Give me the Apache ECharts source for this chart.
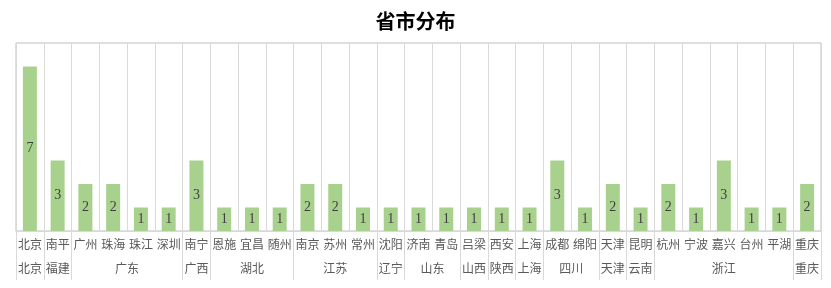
<!DOCTYPE html>
<html>
<head>
<meta charset="utf-8">
<style>
  html, body { margin: 0; padding: 0; background: #fff; }
  #chart { width: 831px; height: 288px; }
</style>
<script src="https://cdn.jsdelivr.net/npm/echarts@6/dist/echarts.min.js"></script>
</head>
<body>
<div id="chart"></div>
<script>
const cities = ['北京', '南平', '广州', '珠海', '珠江', '深圳', '南宁', '恩施', '宜昌', '随州',
  '南京', '苏州', '常州', '沈阳', '济南', '青岛', '吕梁', '西安', '上海', '成都',
  '绵阳', '天津', '昆明', '杭州', '宁波', '嘉兴', '台州', '平湖', '重庆'];
const provinces = ['北京', '福建', '广东', '广东', '广东', '广东', '广西', '湖北', '湖北', '湖北',
  '江苏', '江苏', '江苏', '辽宁', '山东', '山东', '山西', '陕西', '上海', '四川',
  '四川', '天津', '云南', '浙江', '浙江', '浙江', '浙江', '浙江', '重庆'];
const counts = [7, 3, 2, 2, 1, 1, 3, 1, 1, 1, 2, 2, 1, 1, 1, 1, 1, 1, 1, 3, 1, 2, 1, 2, 1, 3, 1, 1, 2];

// 省份标签放在半格刻度的轴上，每组的中点正好落在某个刻度上
const halfSlots = new Array(cities.length * 2 + 1).fill('');
let start = 0;
for (let i = 1; i <= provinces.length; i++) {
  if (i === provinces.length || provinces[i] !== provinces[start]) {
    halfSlots[start + i] = provinces[start];
    start = i;
  }
}
const isGroupStart = (index) => index === 0 || provinces[index] !== provinces[index - 1];

const lineGray = '#d9d9d9';
const textGray = '#595959';
const cjk = 'Noto Sans CJK SC';

const chart = echarts.init(document.getElementById('chart'));
chart.setOption({
  animation: false,
  title: {
    text: '省市分布',
    left: 'center',
    top: 6,
    textStyle: { fontSize: 20, fontWeight: 'bold', color: '#000', fontFamily: cjk }
  },
  grid: { left: 16, right: 10, top: 43, bottom: 57, show: true, borderColor: '#bfbfbf', borderWidth: 1 },
  xAxis: [
    {
      type: 'category',
      data: cities,
      axisLine: { lineStyle: { color: lineGray } },
      axisTick: { show: true, interval: isGroupStart, length: 49, lineStyle: { color: lineGray } },
      splitLine: { show: true, interval: 0, lineStyle: { color: lineGray } },
      axisLabel: { interval: 0, color: textGray, fontSize: 12, fontFamily: cjk, margin: 7 }
    },
    {
      type: 'category',
      position: 'bottom',
      offset: 24,
      boundaryGap: false,
      data: halfSlots,
      axisLine: { show: false },
      axisTick: { show: false },
      splitLine: { show: false },
      axisLabel: { interval: 0, color: textGray, fontSize: 12, fontFamily: cjk, margin: 7 }
    }
  ],
  yAxis: { type: 'value', show: false, min: 0, max: 8, splitLine: { show: false } },
  series: [
    {
      type: 'bar',
      xAxisIndex: 0,
      data: counts,
      barWidth: 14,
      itemStyle: { color: '#a9d18e' },
      label: {
        show: true,
        position: 'inside',
        color: '#404040',
        fontSize: 14,
        fontFamily: 'Liberation Serif'
      }
    }
  ]
});
</script>
</body>
</html>
